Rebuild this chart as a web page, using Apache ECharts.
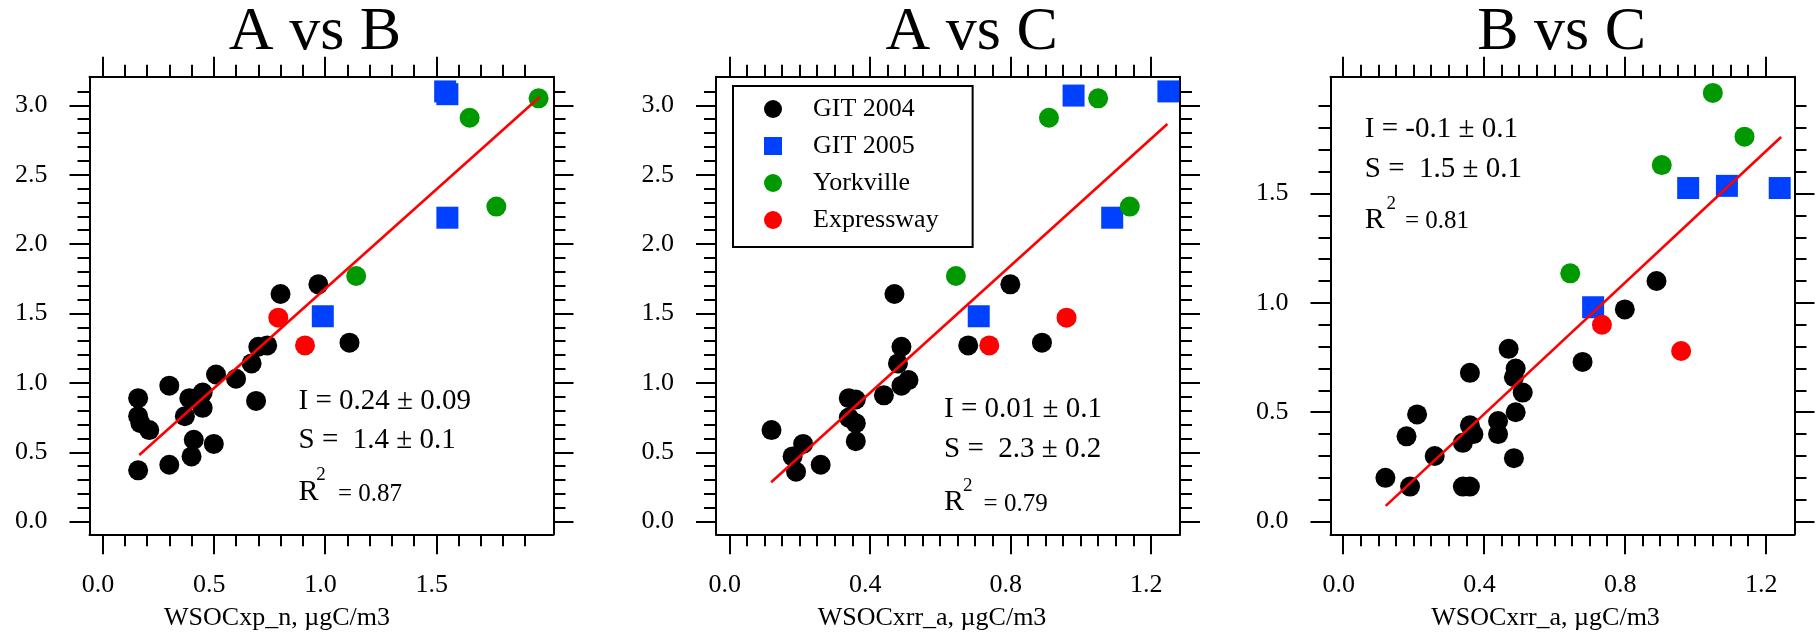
<!DOCTYPE html>
<html>
<head>
<meta charset="utf-8">
<title>WSOC comparisons</title>
<script src="https://cdn.jsdelivr.net/npm/echarts@6/dist/echarts.min.js"></script>
<style>
html, body { margin: 0; padding: 0; background: #fff; }
#main { width: 1818px; height: 637px; }
</style>
</head>
<body>
<div id="main"></div>
<script>
// ---------- data ----------
const groupNames = ['GIT 2004', 'GIT 2005', 'Yorkville', 'Expressway'];

// A vs B
const abGit2004 = [[0.97, 1.71], [0.80, 1.64], [1.11, 1.29], [0.70, 1.26], [0.74, 1.27], [0.67, 1.14],
	[0.60, 1.03], [0.51, 1.06], [0.69, 0.87], [0.30, 0.98], [0.45, 0.93], [0.39, 0.89], [0.45, 0.82],
	[0.37, 0.76], [0.16, 0.89], [0.16, 0.76], [0.17, 0.71], [0.21, 0.66], [0.41, 0.59], [0.40, 0.47],
	[0.50, 0.56], [0.30, 0.41], [0.16, 0.37]];
const abGit2005 = [[1.54, 3.10], [1.55, 3.08], [1.55, 2.19], [0.99, 1.48]];
const abYorkville = [[1.96, 3.05], [1.65, 2.91], [1.77, 2.27], [1.14, 1.77]];
const abExpressway = [[0.79, 1.47], [0.91, 1.27]];
const abFit = [[0.165, 0.48], [1.965, 3.06]];

// A vs C
const acGit2004 = [[0.47, 1.64], [0.80, 1.71], [0.68, 1.27], [0.89, 1.29], [0.49, 1.26], [0.48, 1.14],
	[0.51, 1.02], [0.49, 0.98], [0.44, 0.91], [0.34, 0.89], [0.36, 0.88], [0.34, 0.75], [0.36, 0.71],
	[0.36, 0.58], [0.12, 0.66], [0.21, 0.56], [0.18, 0.47], [0.19, 0.36], [0.26, 0.41]];
const acGit2005 = [[0.98, 3.07], [1.25, 3.10], [1.09, 2.19], [0.71, 1.48]];
const acYorkville = [[0.91, 2.91], [1.05, 3.05], [1.14, 2.27], [0.645, 1.77]];
const acExpressway = [[0.96, 1.47], [0.74, 1.27]];
const acFit = [[0.119, 0.284], [1.247, 2.865]];

// B vs C
const bcGit2004 = [[0.89, 1.10], [0.80, 0.97], [0.68, 0.73], [0.47, 0.79], [0.36, 0.68], [0.49, 0.70],
	[0.485, 0.66], [0.51, 0.59], [0.49, 0.50], [0.44, 0.46], [0.44, 0.40], [0.485, 0.29], [0.36, 0.44],
	[0.37, 0.40], [0.34, 0.36], [0.21, 0.49], [0.18, 0.39], [0.26, 0.30], [0.12, 0.20], [0.19, 0.16],
	[0.34, 0.16], [0.36, 0.16]];
const bcGit2005 = [[0.98, 1.525], [1.09, 1.535], [1.24, 1.525], [0.71, 0.98]];
const bcYorkville = [[1.05, 1.96], [1.14, 1.76], [0.905, 1.63], [0.645, 1.135]];
const bcExpressway = [[0.735, 0.90], [0.96, 0.78]];
const bcFit = [[0.121, 0.072], [1.244, 1.758]];

// tick labels
const xMajorAB = [0, 0.5, 1.0, 1.5];
const xMajorC = [0, 0.4, 0.8, 1.2];
const yMajorAB = [0, 0.5, 1.0, 1.5, 2.0, 2.5, 3.0];
const yMajorBC = [0, 0.5, 1.0, 1.5];

// texts
const titles = ['A vs B', 'A vs C', 'B vs C'];
const xNames = ['WSOCxp_n, µgC/m3', 'WSOCxrr_a, µgC/m3', 'WSOCxrr_a, µgC/m3'];
const statI = ['I = 0.24 ± 0.09', 'I = 0.01 ± 0.1', 'I = -0.1 ± 0.1'];
const statS = ['S =  1.4 ± 0.1', 'S =  2.3 ± 0.2', 'S =  1.5 ± 0.1'];
const statR2 = ['= 0.87', '= 0.79', '= 0.81'];

const panelData = [
	[abGit2004, abGit2005, abYorkville, abExpressway],
	[acGit2004, acGit2005, acYorkville, acExpressway],
	[bcGit2004, bcGit2005, bcYorkville, bcExpressway]
];
const panelFit = [abFit, acFit, bcFit];

// ---------- styles / layout ----------
const FONT = "'Liberation Serif', 'Times New Roman', serif";
const colors = ['#000000', '#0040ff', '#009900', '#ff0000'];
const symbols = ['circle', 'rect', 'circle', 'circle'];
const symbolSizes = [20, 22, 20, 20];

const panels = [
	{ left: 89.5, xMin: -0.0587, xMax: 2.027, yMin: -0.091, yMax: 3.206, xStep: 0.1, xTop: 1.9, yStep: 0.1, yTop: 3.1,
		xMajor: xMajorAB, yMajor: yMajorAB, titleX: 315, nameShift: 89,
		statX: 298.5, statY: [401.6, 439.9, 491.9], supX: 316.3, supY: 475.3, r2X: 338, r2Y: 494.3 },
	{ left: 716, xMin: -0.038, xMax: 1.283, yMin: -0.091, yMax: 3.206, xStep: 0.05, xTop: 1.15, yStep: 0.1, yTop: 3.1,
		xMajor: xMajorC, yMajor: yMajorAB, titleX: 971.7, nameShift: 32,
		statX: 944, statY: [409.2, 449.2, 502.6], supX: 963, supY: 486.3, r2X: 983.6, r2Y: 504.9 },
	{ left: 1330.5, xMin: -0.036, xMax: 1.282, yMin: -0.058, yMax: 2.034, xStep: 0.05, xTop: 1.15, yStep: 0.1, yTop: 1.9,
		xMajor: xMajorC, yMajor: yMajorBC, titleX: 1561.6, nameShift: 34,
		statX: 1364.8, statY: [129.2, 168.9, 219.9], supX: 1386.4, supY: 203.6, r2X: 1405, r2Y: 221.6 }
];

// minor tick positions between the labelled ones
let steps = (step, top, skip) => {
	let out = [];
	for (let i = 1; i * step <= top + 1e-9; i++) {
		let v = +(i * step).toFixed(3);
		if (skip.indexOf(v) < 0) out.push(v);
	}
	return out;
};

let axis = (gi, pos, min, max, ticks, len, line, label) => ({
	type: 'value', gridIndex: gi, position: pos, min: min, max: max, offset: 0,
	axisLine: { show: line, onZero: false, lineStyle: { color: '#000', width: 2 } },
	axisTick: { show: true, inside: false, length: len, customValues: ticks, lineStyle: { color: '#000', width: 2 } },
	axisLabel: label || { show: false },
	splitLine: { show: false },
	minorTick: { show: false }
});

let grids = [], xAxes = [], yAxes = [], series = [], graphics = [];

panels.forEach((p, i) => {
	grids.push({ left: p.left, top: 76.7, width: 464, height: 457.6, containLabel: false, outerBoundsMode: 'none' });

	let xMinor = steps(p.xStep, p.xTop, p.xMajor);
	let yMinor = steps(p.yStep, p.yTop, p.yMajor);
	let xLabel = {
		show: true, customValues: p.xMajor, margin: 38, color: '#000', fontFamily: FONT, fontSize: 26,
		padding: [0, 9, 0, 0], formatter: (v) => v.toFixed(1)
	};
	let yLabel = {
		show: true, customValues: p.yMajor, margin: 42, color: '#000', fontFamily: FONT, fontSize: 26,
		formatter: (v) => v.toFixed(1)
	};

	let xb = axis(i, 'bottom', p.xMin, p.xMax, p.xMajor, 20, true, xLabel);
	xb.name = xNames[i];
	xb.nameLocation = 'middle';
	xb.nameGap = 71;
	xb.nameTextStyle = { color: '#000', fontFamily: FONT, fontSize: 26, padding: [0, p.nameShift, 0, 0] };
	xAxes.push(xb,
		axis(i, 'bottom', p.xMin, p.xMax, xMinor, 12, false),
		axis(i, 'top', p.xMin, p.xMax, p.xMajor, 20, true),
		axis(i, 'top', p.xMin, p.xMax, xMinor, 12, false));
	yAxes.push(axis(i, 'left', p.yMin, p.yMax, p.yMajor, 20, true, yLabel),
		axis(i, 'left', p.yMin, p.yMax, yMinor, 12, false),
		axis(i, 'right', p.yMin, p.yMax, p.yMajor, 20, true),
		axis(i, 'right', p.yMin, p.yMax, yMinor, 12, false));

	panelData[i].forEach((pts, g) => {
		series.push({
			name: groupNames[g], type: 'scatter', xAxisIndex: i * 4, yAxisIndex: i * 4,
			symbol: symbols[g], symbolSize: symbolSizes[g], data: pts,
			itemStyle: { color: colors[g], opacity: 1 }, emphasis: { disabled: true }
		});
	});
	series.push({
		name: 'fit ' + titles[i], type: 'line', xAxisIndex: i * 4, yAxisIndex: i * 4,
		data: panelFit[i], symbol: 'none', lineStyle: { color: '#ff0000', width: 2.6 }, z: 3, silent: true
	});

	// panel title and regression text
	let txt = (x, y, text, size, align) => ({
		type: 'text', x: x, y: y, silent: true,
		style: { text: text, fill: '#000', fontFamily: FONT, fontSize: size, align: align || 'left', verticalAlign: 'middle' }
	});
	graphics.push(txt(p.titleX, 32.4, titles[i], 62, 'center'),
		txt(p.statX, p.statY[0], statI[i], 29),
		txt(p.statX, p.statY[1], statS[i], 29),
		txt(p.statX, p.statY[2], 'R', 30),
		txt(p.supX, p.supY, '2', 19),
		txt(p.r2X, p.r2Y, statR2[i], 25));
});

let myChart = echarts.init(document.getElementById('main'));
myChart.setOption({
	animation: false,
	backgroundColor: '#fff',
	grid: grids,
	xAxis: xAxes,
	yAxis: yAxes,
	legend: {
		orient: 'vertical', left: 733, top: 86, padding: [10, 34, 14, 31], itemGap: 11,
		itemWidth: 18, itemHeight: 18, borderColor: '#000', borderWidth: 2, backgroundColor: '#fff',
		selectedMode: false,
		textStyle: { color: '#000', fontFamily: FONT, fontSize: 26, lineHeight: 26, padding: [0, 0, 0, 26] },
		data: groupNames.map((n, k) => ({ name: n, icon: symbols[k] }))
	},
	graphic: graphics,
	series: series
});
</script>
</body>
</html>
